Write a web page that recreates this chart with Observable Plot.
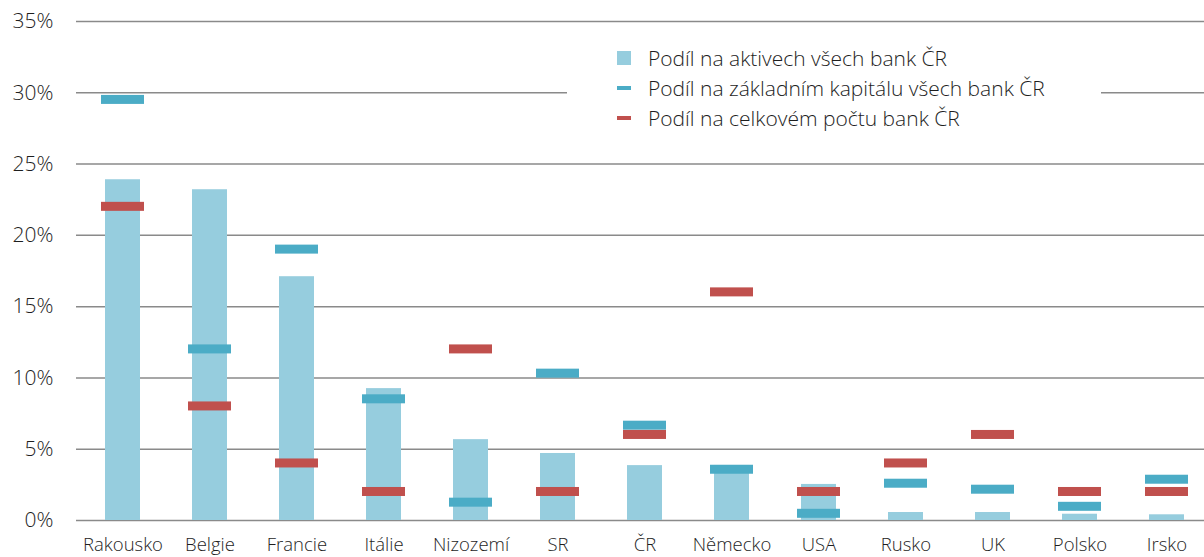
<!DOCTYPE html>
<html>
<head>
<meta charset="utf-8">
<script src="https://cdn.jsdelivr.net/npm/d3@7"></script>
<script src="https://cdn.jsdelivr.net/npm/@observablehq/plot@0.6"></script>
<style>
  html, body { margin: 0; padding: 0; background: #fff; }
  #wrap { position: relative; width: 1204px; height: 557px; overflow: hidden; font-family: "Open Sans", "Noto Sans", sans-serif; font-weight: 300; color: #1e1e1e; }
  #legend { position: absolute; left: 567px; top: 32px; width: 534px; height: 106px; background: #fff; }
  .item { position: absolute; left: 81px; height: 30px; display: flex; align-items: center; font-size: 21px; white-space: nowrap; }
  .sw { position: absolute; left: -31px; width: 14px; }
</style>
</head>
<body>
<div id="wrap"></div>
<script>
const countries = ["Rakousko","Belgie","Francie","Itálie","Nizozemí","SR","ČR","Německo","USA","Rusko","UK","Polsko","Irsko"];
const assets =  [23.9, 23.2, 17.1, 9.25, 5.67, 4.7, 3.85, 3.86, 2.53, 0.56, 0.56, 0.44, 0.4];
const capital = [29.5, 12.0, 19.0, 8.5, 1.25, 10.3, 6.65, 3.56, 0.47, 2.58, 2.16, 0.96, 2.86];
const count =   [22.0, 8.0, 4.0, 2.0, 12.0, 2.0, 6.0, 16.0, 2.0, 4.0, 6.0, 2.0, 2.0];
const yTicks = [0, 5, 10, 15, 20, 25, 30, 35];
const legendLabels = ["Podíl na aktivech všech bank ČR", "Podíl na základním kapitálu všech bank ČR", "Podíl na celkovém počtu bank ČR"];
const colors = { assets: "#96cdde", capital: "#4bacc6", count: "#c0504d" };

const rows = countries.map((c, i) => ({ country: c, assets: assets[i], capital: capital[i], count: count[i] }));

const chart = Plot.plot({
  width: 1204,
  height: 557,
  marginLeft: 76,
  marginRight: 0,
  marginTop: 21,
  marginBottom: 37,
  style: { fontFamily: "'Open Sans', 'Noto Sans', sans-serif", fontWeight: 300, fontSize: "20px", color: "#1e1e1e", background: "#fff", overflow: "visible" },
  x: { domain: countries, range: [76, 1212], paddingInner: 0.6, paddingOuter: 0.3, label: null },
  y: { domain: [0, 35], label: null },
  marks: [
    Plot.ruleY(yTicks, { stroke: "#8a8a8a", strokeWidth: 1.5 }),
    Plot.barY(rows, { x: "country", y: "assets", fill: colors.assets }),
    Plot.barY(rows, { x: "country", y1: "capital", y2: "capital", fill: colors.capital, insetTop: -4.5, insetBottom: -4.5, insetLeft: -4, insetRight: -4 }),
    Plot.barY(rows, { x: "country", y1: "count", y2: "count", fill: colors.count, insetTop: -4.5, insetBottom: -4.5, insetLeft: -4, insetRight: -4 }),
    Plot.axisY({ ticks: yTicks, tickFormat: d => d + "%", tickSize: 0, tickPadding: 23, fontSize: 21, label: null }),
    Plot.axisX({ tickSize: 0, tickPadding: 17, fontSize: 18.5, label: null })
  ]
});

const wrap = document.getElementById("wrap");
wrap.appendChild(chart);

const legend = document.createElement("div");
legend.id = "legend";
const kinds = [
  { color: colors.assets, h: 14 },
  { color: colors.capital, h: 4 },
  { color: colors.count, h: 4 }
];
legendLabels.forEach((lab, i) => {
  const it = document.createElement("div");
  it.className = "item";
  it.style.top = (11 + i * 30) + "px";
  const sw = document.createElement("span");
  sw.className = "sw";
  sw.style.height = kinds[i].h + "px";
  sw.style.background = kinds[i].color;
  sw.style.top = (15 - kinds[i].h / 2) + "px";
  it.appendChild(sw);
  const t = document.createElement("span");
  t.textContent = lab;
  it.appendChild(t);
  legend.appendChild(it);
});
wrap.appendChild(legend);
</script>
</body>
</html>
